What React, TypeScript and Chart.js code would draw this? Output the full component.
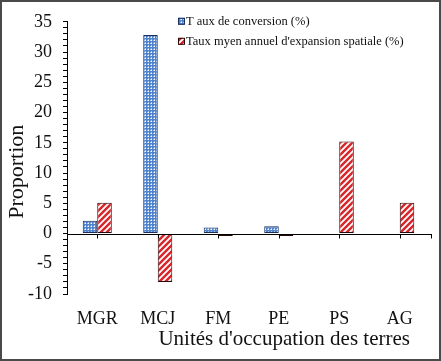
import React, { useEffect, useRef } from 'react';
import { Chart, registerables } from 'chart.js';

Chart.register(...registerables);

const categories = ['MGR', 'MCJ', 'FM', 'PE', 'PS', 'AG'];
const conversionRate = [2.1, 32.8, 1, 1.2, 0, 0];
const expansionRate = [5.1, -8, -0.4, -0.4, 15.2, 5.1];
const seriesNames = ['T aux de conversion (%)', "Taux myen annuel d'expansion spatiale (%)"];
const yMin = -10;
const yMax = 35;
const yMajorStep = 5;
const yMinorStep = 1;
const xTitle = "Unités d'occupation des terres";
const yTitle = 'Proportion';

const SERIF = '"Liberation Serif", "Times New Roman", serif';

function makeDots(): CanvasPattern | string {
  const c = document.createElement('canvas');
  c.width = 3;
  c.height = 3;
  const g = c.getContext('2d');
  if (!g) return '#6f9ad6';
  g.fillStyle = '#4f83cc';
  g.fillRect(0, 0, 3, 3);
  g.fillStyle = '#ffffff';
  g.fillRect(1, 1, 1, 1);
  g.fillStyle = '#a9c4ec';
  g.fillRect(0, 1, 1, 1);
  g.fillRect(1, 0, 1, 1);
  return g.createPattern(c, 'repeat') || '#6f9ad6';
}

function makeStripes(): CanvasPattern | string {
  const s = 6;
  const c = document.createElement('canvas');
  c.width = s;
  c.height = s;
  const g = c.getContext('2d');
  if (!g) return '#e05050';
  g.fillStyle = '#d8262a';
  g.fillRect(0, 0, s, s);
  g.strokeStyle = '#ffffff';
  g.lineWidth = 1.8;
  g.beginPath();
  g.moveTo(-1, s + 1);
  g.lineTo(s + 1, -1);
  g.moveTo(-s / 2 - 1, s / 2 + 1);
  g.lineTo(s / 2 + 1, -s / 2 - 1);
  g.moveTo(s / 2 - 1, s * 1.5 + 1);
  g.lineTo(s * 1.5 + 1, s / 2 - 1);
  g.stroke();
  return g.createPattern(c, 'repeat') || '#e05050';
}

export default function App() {
  const ref = useRef<HTMLCanvasElement | null>(null);

  useEffect(() => {
    if (!ref.current) return;
    const dots = makeDots();
    const stripes = makeStripes();
    const borders = ['#1c2f5a', '#2a0606'];

    const decor = {
      id: 'decor',
      afterDatasetsDraw(chart: any) {
        const { ctx, chartArea, scales } = chart;
        const xs = scales.x;
        const ys = scales.y;
        const y0 = Math.round(ys.getPixelForValue(0)) + 0.5;
        ctx.save();
        ctx.strokeStyle = '#000';
        ctx.lineWidth = 1;
        ctx.beginPath();
        ctx.moveTo(chartArea.left, y0);
        ctx.lineTo(chartArea.right + 2, y0);
        categories.forEach((_, i) => {
          const x = Math.round(xs.getPixelForValue(i)) + 0.5;
          ctx.moveTo(x, y0);
          ctx.lineTo(x, y0 + 4);
        });
        const xr = Math.round(chartArea.right + 2) - 0.5;
        ctx.moveTo(xr, y0);
        ctx.lineTo(xr, y0 + 4);
        ctx.stroke();
        ctx.restore();
      },
      afterDraw(chart: any) {
        const { ctx, chartArea, width, height } = chart;
        ctx.save();
        const lx = chartArea.left + 111;
        const ly = chartArea.top - 4;
        const fills = [dots, stripes];
        ctx.font = `12.5px ${SERIF}`;
        ctx.textBaseline = 'middle';
        ctx.textAlign = 'left';
        seriesNames.forEach((name, i) => {
          const sy = ly + i * 20;
          ctx.fillStyle = fills[i] as any;
          ctx.fillRect(lx, sy, 7, 7);
          ctx.strokeStyle = borders[i];
          ctx.lineWidth = 1;
          ctx.strokeRect(lx + 0.5, sy + 0.5, 6, 6);
          ctx.fillStyle = '#111';
          ctx.fillText(name, lx + 8, sy + 4);
        });
        ctx.fillStyle = '#111';
        ctx.font = `21px ${SERIF}`;
        ctx.textAlign = 'right';
        ctx.textBaseline = 'middle';
        ctx.fillText(xTitle, chartArea.right - 20, 339);
        ctx.save();
        ctx.translate(17, chartArea.top + 150);
        ctx.rotate(-Math.PI / 2);
        ctx.textAlign = 'center';
        ctx.font = `22px ${SERIF}`;
        ctx.fillText(yTitle, 0, 0);
        ctx.restore();
        ctx.strokeStyle = '#4a4a4a';
        ctx.lineWidth = 2;
        ctx.strokeRect(1, 1, width - 2, height - 2);
        ctx.restore();
      },
    };

    const chart = new Chart(ref.current, {
      type: 'bar',
      data: {
        labels: categories,
        datasets: [
          {
            label: seriesNames[0],
            data: conversionRate,
            backgroundColor: dots as any,
            borderColor: borders[0],
            borderWidth: 1,
            borderSkipped: false,
            xAxisID: 'x',
            yAxisID: 'y',
          },
          {
            label: seriesNames[1],
            data: expansionRate,
            backgroundColor: stripes as any,
            borderColor: borders[1],
            borderWidth: 1,
            borderSkipped: false,
            xAxisID: 'x',
            yAxisID: 'y',
          },
        ],
      },
      options: {
        animation: false,
        responsive: true,
        maintainAspectRatio: false,
        layout: { padding: { top: 19, right: 11, left: 0, bottom: 0 } },
        datasets: { bar: { categoryPercentage: 0.48, barPercentage: 1 } },
        plugins: { legend: { display: false }, tooltip: { enabled: false } },
        scales: {
          x: {
            type: 'category',
            offset: true,
            grid: { display: false, drawTicks: false },
            border: { display: false },
            ticks: { color: '#111', font: { family: SERIF, size: 18 }, padding: 14, maxRotation: 0, autoSkip: false },
            afterFit: (s: any) => { s.height = 67; },
          },
          y: {
            type: 'linear',
            min: yMin,
            max: yMax,
            grid: { display: true, drawOnChartArea: false, tickLength: 4, color: '#000', tickColor: '#000' },
            border: { display: true, color: '#000', width: 1 },
            ticks: {
              stepSize: yMinorStep,
              autoSkip: false,
              padding: 11,
              color: '#111',
              font: { family: SERIF, size: 18 },
              callback: (v: any) => (Number(v) % yMajorStep === 0 ? String(v) : ''),
            },
            afterFit: (s: any) => { s.width = 67; },
          },
        },
      },
      plugins: [decor],
    });
    return () => chart.destroy();
  }, []);

  return (
    <div style={{ position: 'fixed', left: 0, top: 0, width: 441, height: 361, background: '#fff' }}>
      <canvas ref={ref} />
    </div>
  );
}
